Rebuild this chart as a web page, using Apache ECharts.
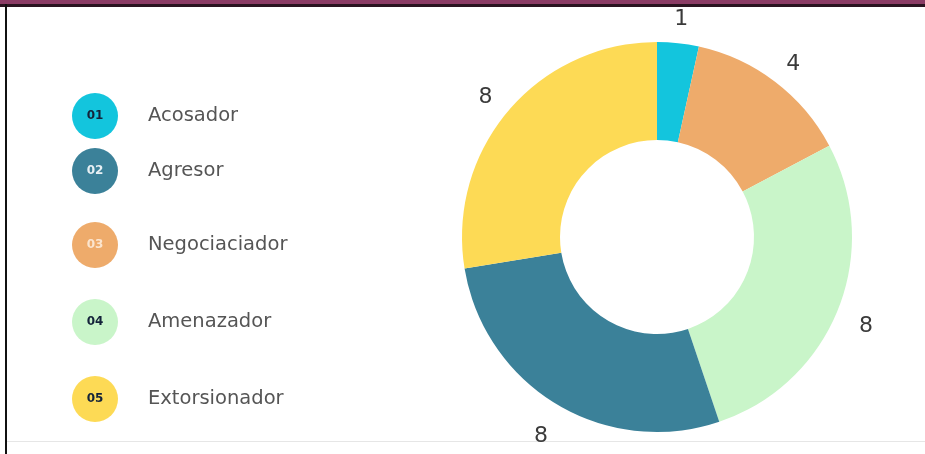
<!DOCTYPE html>
<html>
<head>
<meta charset="utf-8">
<script src="https://cdn.jsdelivr.net/npm/echarts@6/dist/echarts.min.js"></script>
<style>
html,body{margin:0;padding:0;background:#fff;}
#main{width:925px;height:454px;}
</style>
</head>
<body>
<div id="main"></div>
<script>
// Legend order
const codes = ['01', '02', '03', '04', '05'];
const legendNames = ['Acosador', 'Agresor', 'Negociaciador', 'Amenazador', 'Extorsionador'];
const legendColors = ['#13C5DD', '#3B8199', '#EEAB6B', '#C9F5C9', '#FDDA55'];
const codeTextColors = ['#14233a', '#e8f0f4', '#fbe5cf', '#14233a', '#14233a'];
const legendTops = [93, 148, 222, 299, 376];
// Pie order (clockwise from top)
const pieNames = ['Acosador', 'Negociaciador', 'Amenazador', 'Agresor', 'Extorsionador'];
const pieValues = [1, 4, 8, 8, 8];

const colorOf = n => legendColors[legendNames.indexOf(n)];
const pieData = pieNames.map((n, i) => ({ name: n, value: pieValues[i], itemStyle: { color: colorOf(n) } }));

const FONT = '"DejaVu Sans", sans-serif';
const rich = { t: { fontFamily: FONT, fontSize: 19.5, color: '#555', padding: [0, 0, 0, 30] } };
codes.forEach((c, i) => {
  rich['c' + i] = {
    width: 46, height: 46, lineHeight: 46, borderRadius: 23, align: 'center',
    backgroundColor: legendColors[i], color: codeTextColors[i],
    fontFamily: FONT, fontWeight: 'bold', fontSize: 12
  };
});

const legends = legendNames.map((n, i) => ({
  data: [n], left: 67, top: legendTops[i], orient: 'vertical', padding: 0,
  icon: 'none', itemWidth: 0, itemHeight: 0, selectedMode: false,
  formatter: name => '{c' + i + '|' + codes[i] + '}{t|' + name + '}',
  textStyle: { rich: rich }
}));

const chart = echarts.init(document.getElementById('main'), null, { renderer: 'canvas' });
chart.setOption({
  backgroundColor: '#ffffff',
  animation: false,
  legend: legends,
  graphic: [
    { type: 'rect', shape: { x: 0, y: 0, width: 925, height: 4 }, style: { fill: '#8B3C65' } },
    { type: 'rect', shape: { x: 0, y: 4, width: 925, height: 3 }, style: { fill: '#2a1420' } },
    { type: 'rect', shape: { x: 5, y: 4, width: 2, height: 450 }, style: { fill: '#111' } },
    { type: 'rect', shape: { x: 7, y: 441, width: 918, height: 1 }, style: { fill: '#e6e6e6' } }
  ],
  series: [
    {
      type: 'pie', center: [657, 237], radius: [97, 195], startAngle: 90, clockwise: true,
      label: { show: false }, labelLine: { show: false }, silent: true,
      data: pieData
    },
    {
      type: 'pie', center: [657, 237], radius: [210, 234], startAngle: 90, clockwise: true,
      silent: true, itemStyle: { color: 'rgba(0,0,0,0)' },
      label: { show: true, position: 'inside', formatter: '{c}', offset: [0, 6], fontFamily: FONT, fontSize: 22, color: '#3a3a3a' },
      labelLine: { show: false },
      data: pieNames.map((n, i) => ({ name: n, value: pieValues[i] }))
    }
  ]
});
</script>
</body>
</html>
